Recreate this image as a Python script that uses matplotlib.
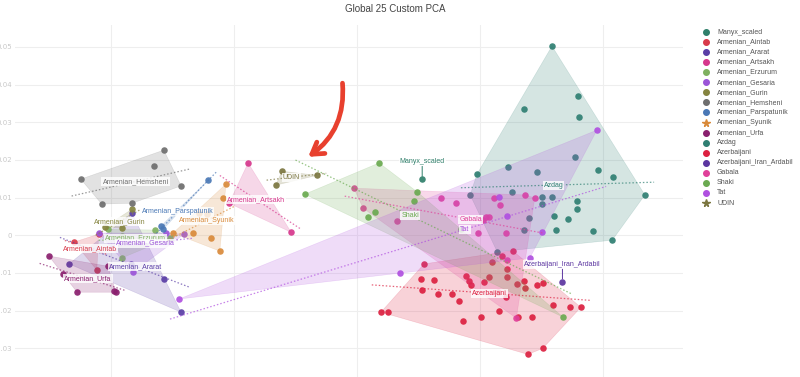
import numpy as np
import matplotlib
matplotlib.use("Agg")
import matplotlib.pyplot as plt
from matplotlib.lines import Line2D
from matplotlib.patches import Polygon, FancyArrowPatch

# ---------------- data ----------------
groups = ["Manyx_scaled", "Armenian_Aintab", "Armenian_Ararat", "Armenian_Artsakh",
          "Armenian_Erzurum", "Armenian_Gesaria", "Armenian_Gurin", "Armenian_Hemsheni",
          "Armenian_Parspatunik", "Armenian_Syunik", "Armenian_Urfa", "Azdag",
          "Azerbaijani", "Azerbaijani_Iran_Ardabil", "Gabala", "Shaki", "Tat", "UDIN"]

colors = ["#2f7f6a", "#d83a4a", "#5a3ea6", "#d6378c", "#7fb060", "#9b55d8", "#85843f",
          "#6e6e6e", "#4a78b5", "#d98a3a", "#8a1f6e", "#2f7f72", "#dc2040", "#5b35a0",
          "#e0409a", "#6aaa50", "#b050e0", "#7b7640"]

manyx_x = [0.0106]
manyx_y = [0.0149]

aintab_x = [-0.0460, -0.0420, -0.0423]
aintab_y = [-0.0018, 0.0003, -0.0092]

ararat_x = [-0.0468, -0.0367, -0.0314, -0.0286, -0.0366]
ararat_y = [-0.0076, -0.0076, -0.0116, -0.0204, 0.0059]

artsakh_x = [-0.0177, -0.0107, -0.0208]
artsakh_y = [0.0192, 0.0008, 0.0085]

erzurum_x = [-0.0382, -0.0382, -0.0328, -0.0304, -0.0405]
erzurum_y = [-0.0002, -0.0060, 0.0014, -0.0007, 0.0016]

gesaria_x = [-0.0420, -0.0311, -0.0281, -0.0364]
gesaria_y = [0.0006, 0.0006, 0.0003, -0.0098]

gurin_x = [-0.0366, -0.0410, -0.0382]
gurin_y = [0.0069, 0.0022, 0.0019]

hemsheni_x = [-0.0449, -0.0314, -0.0330, -0.0286, -0.0415, -0.0366]
hemsheni_y = [0.0149, 0.0226, 0.0184, 0.0131, 0.0083, 0.0085]

parspatunik_x = [-0.0242, -0.0319, -0.0315]
parspatunik_y = [0.0146, 0.0024, 0.0016]

syunik_x = [-0.0213, -0.0218, -0.0257, -0.0244, -0.0299, -0.0267, -0.0237, -0.0223]
syunik_y = [0.0136, 0.0099, 0.0059, 0.0056, 0.0006, 0.0006, -0.0007, -0.0042]

urfa_x = [-0.0501, -0.0478, -0.0455, -0.0395, -0.0392, -0.0405]
urfa_y = [-0.0055, -0.0103, -0.0151, -0.0148, -0.0151, -0.0082]

azdag_x = [0.0317, 0.0360, 0.0271, 0.0361, 0.0392, 0.0416, 0.0195, 0.0468, 0.0358,
           0.0358, 0.0343, 0.0383, 0.0415, 0.0246, 0.0293, 0.0354, 0.0184, 0.0252,
           0.0300, 0.0317, 0.0301, 0.0320, 0.0280, 0.0271, 0.0324, 0.0228]
azdag_y = [0.0502, 0.0369, 0.0334, 0.0315, 0.0172, 0.0156, 0.0162, 0.0107, 0.0092,
           0.0069, 0.0043, 0.0011, -0.0013, 0.0181, 0.0168, 0.0207, 0.0107, 0.0115,
           0.0101, 0.0101, 0.0083, 0.0052, 0.0046, 0.0013, 0.0015, -0.0044]

azeri_x = [0.0039, 0.0050, 0.0109, 0.0104, 0.0126, 0.0105, 0.0132, 0.0154, 0.0166,
           0.0172, 0.0178, 0.0182, 0.0185, 0.0207, 0.0214, 0.0220, 0.0236, 0.0253,
           0.0244, 0.0244, 0.0230, 0.0242, 0.0231, 0.0201, 0.0260, 0.0271, 0.0273,
           0.0293, 0.0302, 0.0318, 0.0346, 0.0364, 0.0285, 0.0261, 0.0302, 0.0278]
azeri_y = [-0.0204, -0.0204, -0.0076, -0.0116, -0.0118, -0.0145, -0.0156, -0.0156, -0.0174,
           -0.0228, -0.0108, -0.0120, -0.0131, -0.0124, -0.0110, -0.0071, -0.0055, -0.0041,
           -0.0090, -0.0111, -0.0151, -0.0165, -0.0201, -0.0216, -0.0129, -0.0121, -0.0141,
           -0.0132, -0.0127, -0.0185, -0.0189, -0.0191, -0.0217, -0.0216, -0.0300, -0.0316]

ardabil_x = [0.0334]
ardabil_y = [-0.0123]

gabala_x = [-0.0005, 0.0010, 0.0065, 0.0137, 0.0161, 0.0223, 0.0233, 0.0205, 0.0210,
            0.0215, 0.0197, 0.0244, 0.0259, 0.0273, 0.0289, 0.0242]
gabala_y = [0.0125, 0.0072, 0.0038, 0.0099, 0.0085, 0.0099, 0.0080, 0.0040, 0.0048,
            0.0048, 0.0006, -0.0066, -0.0220, 0.0107, 0.0099, 0.0006]

shaki_x = [-0.0085, 0.0036, 0.0018, 0.0029, 0.0093, 0.0098, 0.0169, 0.0335]
shaki_y = [0.0109, 0.0192, 0.0048, 0.0062, 0.0091, 0.0115, 0.0016, -0.0217]

tat_x = [-0.0289, 0.0070, 0.0390, 0.0231, 0.0244, 0.0301, 0.0281]
tat_y = [-0.0169, -0.0100, 0.0279, 0.0101, 0.0051, 0.0008, -0.0060]

udin_x = [-0.0122, -0.0132, -0.0065]
udin_y = [0.0170, 0.0133, 0.0159]

series_x = [manyx_x, aintab_x, ararat_x, artsakh_x, erzurum_x, gesaria_x, gurin_x,
            hemsheni_x, parspatunik_x, syunik_x, urfa_x, azdag_x, azeri_x, ardabil_x,
            gabala_x, shaki_x, tat_x, udin_x]
series_y = [manyx_y, aintab_y, ararat_y, artsakh_y, erzurum_y, gesaria_y, gurin_y,
            hemsheni_y, parspatunik_y, syunik_y, urfa_y, azdag_y, azeri_y, ardabil_y,
            gabala_y, shaki_y, tat_y, udin_y]

y_ticks = [-0.03, -0.02, -0.01, 0, 0.01, 0.02, 0.03, 0.04, 0.05]
y_tick_labels = ["\u22120.03", "\u22120.02", "\u22120.01", "0", "0.01", "0.02", "0.03", "0.04", "0.05"]
x_ticks = [-0.04, -0.02, 0, 0.02, 0.04]


def convex_hull(px, py):
    pts = sorted(set(zip(px, py)))
    if len(pts) < 3:
        return pts

    def cross(o, a, b):
        return (a[0] - o[0]) * (b[1] - o[1]) - (a[1] - o[1]) * (b[0] - o[0])

    lower, upper = [], []
    for p in pts:
        while len(lower) >= 2 and cross(lower[-2], lower[-1], p) <= 0:
            lower.pop()
        lower.append(p)
    for p in reversed(pts):
        while len(upper) >= 2 and cross(upper[-2], upper[-1], p) <= 0:
            upper.pop()
        upper.append(p)
    return lower[:-1] + upper[:-1]


# ---------------- figure ----------------
W, H = 800, 377
fig = plt.figure(figsize=(W / 100, H / 100), dpi=100)
ax = fig.add_axes([15 / W, 0.0, (683 - 15) / W, 1 - 25 / H])
ax.set_xlim(-0.0556, 0.0530)
ax.set_ylim(-0.0376, 0.0558)

for s in ax.spines.values():
    s.set_visible(False)
ax.set_xticks(x_ticks)
ax.set_xticklabels([])
ax.set_yticks(y_ticks)
ax.set_yticklabels(y_tick_labels)
ax.tick_params(axis="both", length=0, pad=2)
ax.tick_params(axis="y", labelsize=5, labelcolor="#c8c8c8")
ax.grid(True, color="#eeeeee", lw=0.8, zorder=0)
ax.set_axisbelow(True)

FONT = "Liberation Sans"

for i, (name, col, xs, ys) in enumerate(zip(groups, colors, series_x, series_y)):
    xs = np.asarray(xs)
    ys = np.asarray(ys)
    if len(xs) >= 3:
        hp = convex_hull(list(xs), list(ys))
        ax.add_patch(Polygon(hp, closed=True, facecolor=col, alpha=0.2,
                             edgecolor=col, lw=0.4))
    if len(xs) >= 2:
        k, b = np.polyfit(xs, ys, 1)
        pad = 0.0015
        xl = np.array([xs.min() - pad, xs.max() + pad])
        ax.plot(xl, k * xl + b, ls=(0, (1.2, 1.6)), lw=0.9, color=col, alpha=0.7)
    ax.scatter(xs, ys, s=22, color=col, alpha=0.92, linewidths=0)

# group labels
for i, (name, col, xs, ys) in enumerate(zip(groups, colors, series_x, series_y)):
    bbox = dict(boxstyle="square,pad=0.15", fc="white", ec="none", alpha=0.8)
    if len(xs) == 1:
        ax.annotate(name, xy=(xs[0], ys[0]), xytext=(0, 10), textcoords="offset points",
                    ha="center", va="bottom", fontsize=5, color=col, family=FONT,
                    bbox=bbox, zorder=50,
                    arrowprops=dict(arrowstyle="-", color=col, lw=0.7, shrinkA=0, shrinkB=2))
    else:
        ax.text(np.mean(xs), np.mean(ys), name, ha="center", va="center", fontsize=5,
                color=col, family=FONT, bbox=bbox, zorder=50)

# hand-drawn red arrow
arrow = FancyArrowPatch(posA=(-0.0024, 0.0411), posB=(-0.0083, 0.0204),
                        connectionstyle="arc3,rad=-0.3",
                        arrowstyle="->,head_length=8,head_width=5",
                        color="#e8402e", lw=3.4, capstyle="round", joinstyle="round",
                        zorder=60)
ax.add_patch(arrow)

# title
fig.text(395 / W, 1 - 9 / H, "Global 25 Custom PCA", ha="center", va="center",
         fontsize=7, color="#444444", family=FONT)

# legend (manual)
for i, (name, col) in enumerate(zip(groups, colors)):
    yy = 1 - (32 + 10.06 * i) / H
    mk = "*" if name in ("UDIN", "Armenian_Syunik") else "o"
    ms = 5.5 if mk == "*" else 4
    fig.add_artist(Line2D([706 / W], [yy], marker=mk, ms=ms, color=col, lw=0,
                          transform=fig.transFigure))
    fig.text(717 / W, yy, name, ha="left", va="center", fontsize=5, color="#555555",
             family=FONT)

fig.savefig("out.png", dpi=100)
